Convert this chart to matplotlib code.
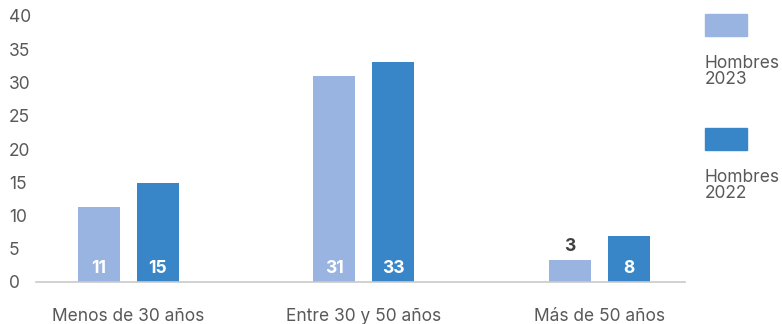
import matplotlib
import matplotlib.pyplot as plt
from matplotlib.patches import Rectangle

matplotlib.use('Agg')

W, H = 782, 324

# Data
categories = ["Menos de 30 años", "Entre 30 y 50 años", "Más de 50 años"]
series_names = ["Hombres\n2023", "Hombres\n2022"]
heights_2023 = [11.3, 31.0, 3.3]
heights_2022 = [14.9, 33.1, 6.9]
labels_2023 = ["11", "31", "3"]
labels_2022 = ["15", "33", "8"]
yticks = [0, 5, 10, 15, 20, 25, 30, 35, 40]

LIGHT = "#99B4E0"
DARK = "#3886C8"
TEXT = "#595959"
AXIS = "#c9c9c9"

plt.rcParams['font.family'] = ['Inter', 'DejaVu Sans']

fig = plt.figure(figsize=(W / 100, H / 100), dpi=100)
ax = fig.add_axes([36 / W, 42 / H, (685 - 36) / W, (282 - 16) / H])

x = list(range(len(categories)))
bw = 0.178
off = 0.125
b1 = ax.bar([i - off for i in x], heights_2023, width=bw, color=LIGHT)
b2 = ax.bar([i + off for i in x], heights_2022, width=bw, color=DARK)

# value labels: inside at bottom when bar is tall enough, above otherwise
for bars, labels in ((b1, labels_2023), (b2, labels_2022)):
    for rect, lab in zip(bars, labels):
        cx = rect.get_x() + rect.get_width() / 2
        h = rect.get_height()
        if h >= 5:
            ax.text(cx, 2.1, lab, ha='center', va='center', color='white',
                    fontsize=12.5, fontweight='bold')
        else:
            ax.text(cx, h + 2.0, lab, ha='center', va='center', color='#404040',
                    fontsize=12.5, fontweight='bold')

ax.set_xlim(-0.391, 2.363)
ax.set_ylim(0, 40)
ax.set_yticks(yticks)
ax.set_xticks(x)
ax.set_xticklabels(categories)
ax.tick_params(axis='both', length=0, colors=TEXT, labelsize=12.5)
ax.tick_params(axis='y', pad=19.5)
ax.tick_params(axis='x', pad=19)
for lbl in ax.get_yticklabels():
    lbl.set_horizontalalignment('left')

for s in ['top', 'right', 'left']:
    ax.spines[s].set_visible(False)
ax.spines['bottom'].set_color(AXIS)
ax.spines['bottom'].set_linewidth(1.2)

# legend drawn by hand on the right
for (y_top, color, name) in ((14, LIGHT, series_names[0]), (128, DARK, series_names[1])):
    fig.add_artist(Rectangle((705 / W, 1 - (y_top + 22) / H), 42 / W, 22 / H,
                             transform=fig.transFigure, color=color))
    fig.text(705 / W, 1 - (y_top + 41) / H, name, ha='left', va='top',
             color=TEXT, fontsize=12.5, linespacing=0.95)

fig.savefig("out.png", dpi=100)
